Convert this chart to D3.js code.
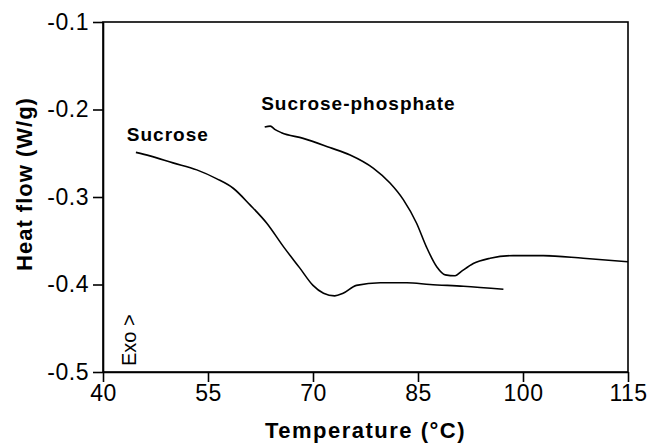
<!DOCTYPE html>
<html>
<head>
<meta charset="utf-8">
<script src="https://cdn.jsdelivr.net/npm/d3@7"></script>
<style>
  body { margin: 0; background: #fff; }
  svg { display: block; font-family: "Liberation Sans", Arial, sans-serif; }
</style>
</head>
<body>
<svg id="chart" width="651" height="445"></svg>
<script>
const X_TICKS = [40, 55, 70, 85, 100, 115];
const Y_TICKS = [-0.5, -0.4, -0.3, -0.2, -0.1];

const sucroseTemp = [44.7, 46.7, 50.0, 53.4, 56.2, 58.6, 61.0, 63.4, 65.8, 68.1, 70.0, 71.5, 73.1, 74.3, 76.2, 79.6, 83.4, 86.7, 91.5, 97.2];
const sucroseFlow = [-0.249, -0.253, -0.261, -0.269, -0.279, -0.290, -0.309, -0.330, -0.357, -0.381, -0.401, -0.410, -0.413, -0.410, -0.401, -0.398, -0.398, -0.400, -0.402, -0.4055];

const phosphateTemp = [63.1, 63.9, 64.6, 65.5, 68.6, 72.4, 75.3, 78.6, 81.0, 82.9, 84.8, 86.2, 87.7, 88.9, 90.3, 91.2, 92.9, 95.3, 98.6, 102.9, 108.6, 115];
const phosphateFlow = [-0.220, -0.219, -0.223, -0.2265, -0.233, -0.2435, -0.252, -0.267, -0.284, -0.303, -0.330, -0.357, -0.380, -0.389, -0.390, -0.385, -0.376, -0.370, -0.367, -0.367, -0.370, -0.374];

const labels = [
  { text: "Sucrose", t: 43.4, v: -0.2365 },
  { text: "Sucrose-phosphate", t: 62.6, v: -0.2005 },
];

const margin = { top: 22, right: 23, bottom: 73, left: 103 };
const width = 651;
const height = 445;
const svg = d3.select("#chart");

const x = d3.scaleLinear().domain([40, 115]).range([margin.left, width - margin.right]);
const y = d3.scaleLinear().domain([-0.5, -0.1]).range([height - margin.bottom, margin.top]);

const line = d3.line()
  .x((d) => x(d[0]))
  .y((d) => y(d[1]))
  .curve(d3.curveMonotoneX);

const series = [
  d3.zip(sucroseTemp, sucroseFlow),
  d3.zip(phosphateTemp, phosphateFlow),
];

svg.append("g")
  .selectAll("path")
  .data(series)
  .join("path")
  .attr("d", line)
  .attr("fill", "none")
  .attr("stroke", "#000")
  .attr("stroke-width", 1.6);

// frame
svg.append("rect")
  .attr("x", x(40))
  .attr("y", y(-0.1))
  .attr("width", x(115) - x(40))
  .attr("height", y(-0.5) - y(-0.1))
  .attr("fill", "none")
  .attr("stroke", "#000")
  .attr("stroke-width", 1.6);

const xAxis = svg.append("g")
  .attr("transform", `translate(0,${y(-0.5)})`)
  .call(d3.axisBottom(x).tickValues(X_TICKS).tickSize(10).tickSizeOuter(0).tickPadding(3));

const yAxis = svg.append("g")
  .attr("transform", `translate(${x(40)},0)`)
  .call(d3.axisLeft(y).tickValues(Y_TICKS).tickSize(10).tickSizeOuter(0).tickPadding(4));

for (const axis of [xAxis, yAxis]) {
  axis.select(".domain").attr("stroke-width", 1.6);
  axis.selectAll(".tick line").attr("stroke-width", 1.6);
  axis.selectAll(".tick text")
    .attr("fill", "#000")
    .style("font-size", "23px")
    .style("letter-spacing", "0.5px")
    .style("font-family", "'Liberation Sans', Arial, sans-serif");
}
yAxis.selectAll(".tick text").text((d) => d3.format(".1f")(d).replace("−", "-"));

svg.append("text")
  .attr("x", (x(40) + x(115)) / 2)
  .attr("y", 438)
  .attr("text-anchor", "middle")
  .style("font-size", "22px")
  .style("font-weight", "bold")
  .style("letter-spacing", "1.5px")
  .text("Temperature (°C)");

svg.append("text")
  .attr("transform", `translate(32,184) rotate(-90)`)
  .attr("text-anchor", "middle")
  .style("font-size", "22px")
  .style("font-weight", "bold")
  .style("letter-spacing", "1px")
  .text("Heat flow (W/g)");

svg.append("g")
  .selectAll("text")
  .data(labels)
  .join("text")
  .attr("x", (d) => x(d.t))
  .attr("y", (d) => y(d.v))
  .style("font-size", "19px")
  .style("font-weight", "bold")
  .style("letter-spacing", "1px")
  .text((d) => d.text);

svg.append("text")
  .attr("transform", `translate(136,366) rotate(-90)`)
  .style("font-size", "20px")
  .text("Exo >");
</script>
</body>
</html>
